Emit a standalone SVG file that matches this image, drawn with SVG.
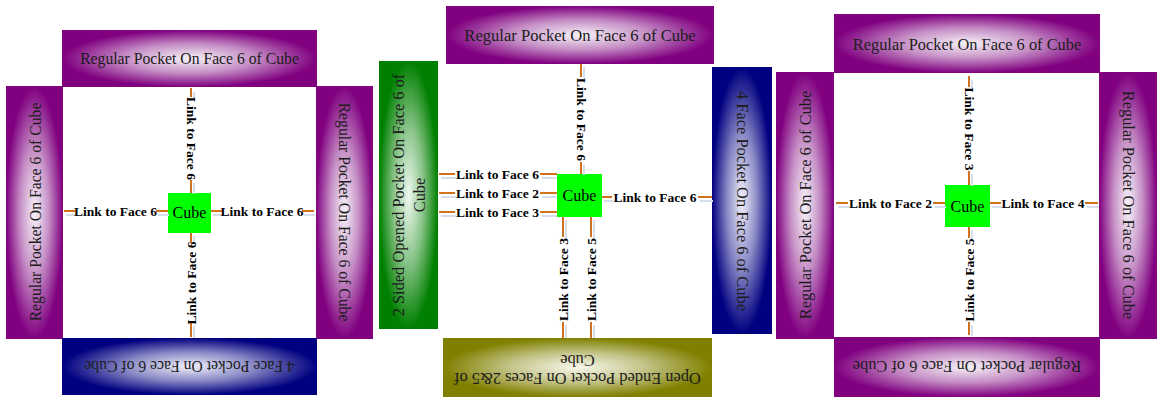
<svg xmlns="http://www.w3.org/2000/svg" width="1157" height="397" viewBox="0 0 1157 397">
<defs>
<radialGradient id="gP" cx="0.5" cy="0.5" r="0.5"><stop offset="0" stop-color="#f6f2f8"/><stop offset="0.5" stop-color="#c690c6"/><stop offset="1" stop-color="#800080"/></radialGradient>
<radialGradient id="gB" cx="0.5" cy="0.5" r="0.5"><stop offset="0" stop-color="#f0f0fa"/><stop offset="0.5" stop-color="#8a8ac6"/><stop offset="1" stop-color="#000080"/></radialGradient>
<radialGradient id="gG" cx="0.5" cy="0.5" r="0.5"><stop offset="0" stop-color="#f0f8f0"/><stop offset="0.5" stop-color="#8ac48a"/><stop offset="1" stop-color="#008000"/></radialGradient>
<radialGradient id="gO" cx="0.5" cy="0.5" r="0.5"><stop offset="0" stop-color="#f8f8ec"/><stop offset="0.5" stop-color="#c4c48a"/><stop offset="1" stop-color="#808000"/></radialGradient>
<style>
.bx{font-family:"Liberation Serif","Times New Roman",serif;fill:#1c1c1c;text-anchor:middle;dominant-baseline:central}
.cube{fill:#00ff00}
.ct{font-family:"Liberation Serif","Times New Roman",serif;font-size:16px;fill:#000;text-anchor:middle;dominant-baseline:central}
.lk{font-family:"Liberation Serif","Times New Roman",serif;font-size:13.5px;font-weight:bold;fill:#000;text-anchor:middle;dominant-baseline:central}
.ln{stroke:#d2721e;stroke-width:2;fill:none}
.sh{stroke:#d4deec;stroke-width:2;fill:none}
</style>
</defs>
<rect width="1157" height="397" fill="#fff"/>

<!-- Left panel -->
<g id="L-top"><rect x="62" y="30" width="255" height="57" fill="url(#gP)"/><text class="bx" x="189.5" y="58.5" font-size="15.7">Regular Pocket On Face 6 of Cube</text></g>
<g id="L-left"><rect x="6" y="86" width="57" height="253" fill="url(#gP)"/><text class="bx" font-size="15.7" transform="translate(35,212) rotate(-90)">Regular Pocket On Face 6 of Cube</text></g>
<g id="L-right"><rect x="316" y="86" width="57" height="253" fill="url(#gP)"/><text class="bx" font-size="15.7" transform="translate(344,212) rotate(90)">Regular Pocket On Face 6 of Cube</text></g>
<g id="L-bottom"><rect x="62" y="338" width="255" height="57" fill="url(#gB)"/><text class="bx" font-size="15.7" transform="translate(189.5,366) rotate(180)">4 Face Pocket On Face 6 of Cube</text></g>
<g id="L-cube"><rect class="cube" x="168" y="193" width="43" height="40"/><text class="ct" x="189.5" y="212.5">Cube</text></g>

<!-- Middle panel -->
<g id="M-top"><rect x="446" y="6" width="268" height="58" fill="url(#gP)"/><text class="bx" x="580" y="35" font-size="16.6">Regular Pocket On Face 6 of Cube</text></g>
<g id="M-left"><rect x="379" y="61" width="59" height="268" fill="url(#gG)"/><text class="bx" font-size="16.4" transform="translate(408.5,195) rotate(-90)"><tspan x="0" y="-10.5">2 Sided Opened Pocket On Face 6 of</tspan><tspan x="0" y="10.5">Cube</tspan></text></g>
<g id="M-right"><rect x="712" y="67" width="60" height="267" fill="url(#gB)"/><text class="bx" font-size="16.4" transform="translate(742,201) rotate(90)">4 Face Pocket On Face 6 of Cube</text></g>
<g id="M-bottom"><rect x="443" y="338" width="269" height="59" fill="url(#gO)"/><text class="bx" font-size="16.4" transform="translate(577.5,370) rotate(180)"><tspan x="0" y="-9">Open Ended Pocket On Faces 2&amp;5 of</tspan><tspan x="0" y="9">Cube</tspan></text></g>
<g id="M-cube"><rect class="cube" x="557" y="174" width="45" height="43"/><text class="ct" x="579.5" y="195.5">Cube</text></g>

<!-- Right panel -->
<g id="R-top"><rect x="834" y="14" width="266" height="59" fill="url(#gP)"/><text class="bx" x="967" y="44" font-size="16.4">Regular Pocket On Face 6 of Cube</text></g>
<g id="R-left"><rect x="776" y="72" width="58" height="267" fill="url(#gP)"/><text class="bx" font-size="16.4" transform="translate(805,205) rotate(-90)">Regular Pocket On Face 6 of Cube</text></g>
<g id="R-right"><rect x="1099" y="72" width="58" height="267" fill="url(#gP)"/><text class="bx" font-size="16.4" transform="translate(1128,205) rotate(90)">Regular Pocket On Face 6 of Cube</text></g>
<g id="R-bottom"><rect x="834" y="337" width="266" height="60" fill="url(#gP)"/><text class="bx" font-size="16.4" transform="translate(967,366) rotate(180)">Regular Pocket On Face 6 of Cube</text></g>
<g id="R-cube"><rect class="cube" x="945" y="185" width="45" height="42"/><text class="ct" x="967.5" y="206">Cube</text></g>

<g id="connectors">
<!-- shadows -->
<path class="sh" d="M66 215H76M158 215H169M213 215H223M304 215H315M194 92V98M194 183V194M194 236V244M194 326V338
M441 178H456M542 178H557M441 197H456M542 197H557M441 216H456M542 216H557M604 201H613M700 201H713M584 67V78M584 165V175M566 220V238M566 325V338M594 220V238M594 325V338
M838 207H849M935 207H946M992 207H1002M1087 207H1099M972 80V88M972 174V186M972 230V239M972 325V336"/>
<!-- left panel -->
<path class="ln" d="M64 211H75M156 211H168M211 211H222M302 211H314M191 88V97M191 180V193M191 233V243M191 323V337"/>
<text class="lk" x="115.5" y="211" font-size="13">Link to Face 6</text>
<text class="lk" x="262" y="211" font-size="13">Link to Face 6</text>
<text class="lk" font-size="13" transform="translate(191,138.5) rotate(90)">Link to Face 6</text>
<text class="lk" font-size="13" transform="translate(191,283) rotate(-90)">Link to Face 6</text>
<!-- middle panel -->
<path class="ln" d="M439 174H455M540 174H557M439 193H455M540 193H557M439 212H455M540 212H557M602 197H612M698 197H712M581 64V77M581 162V174M563 217V237M563 322V338M591 217V237M591 322V338"/>
<text class="lk" x="497.5" y="174">Link to Face 6</text>
<text class="lk" x="497.5" y="193">Link to Face 2</text>
<text class="lk" x="497.5" y="212">Link to Face 3</text>
<text class="lk" x="655" y="197">Link to Face 6</text>
<text class="lk" transform="translate(581,119.5) rotate(90)">Link to Face 6</text>
<text class="lk" transform="translate(563,279.5) rotate(-90)">Link to Face 3</text>
<text class="lk" transform="translate(591,279.5) rotate(-90)">Link to Face 5</text>
<!-- right panel -->
<path class="ln" d="M836 203H848M933 203H945M990 203H1001M1085 203H1098M969 76V87M969 171V185M969 227V238M969 322V335"/>
<text class="lk" x="890.5" y="203">Link to Face 2</text>
<text class="lk" x="1043" y="203">Link to Face 4</text>
<text class="lk" transform="translate(969,129) rotate(90)">Link to Face 3</text>
<text class="lk" transform="translate(969,280) rotate(-90)">Link to Face 5</text>
</g>
</svg>
